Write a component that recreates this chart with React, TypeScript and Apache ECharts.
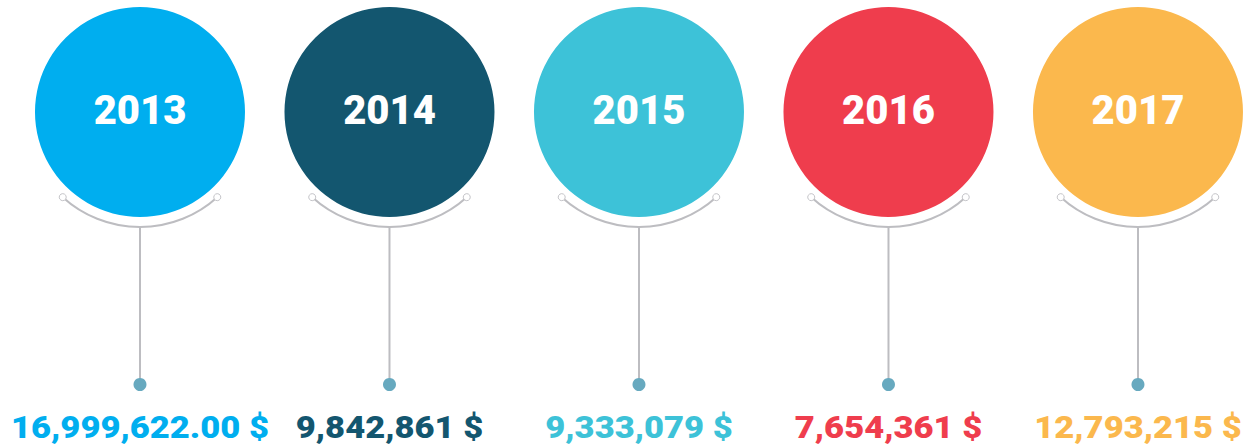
import React, { useEffect, useRef } from "react";
import * as echarts from "echarts";

const years = ["2013", "2014", "2015", "2016", "2017"];
const amounts = ["16,999,622.00 $", "9,842,861 $", "9,333,079 $", "7,654,361 $", "12,793,215 $"];
const colors = ["#00AEEF", "#13566F", "#3DC2D8", "#EF3D4D", "#FBB84D"];

const FONT = "Roboto";

export default function App() {
  const ref = useRef<HTMLDivElement>(null);
  useEffect(() => {
    if (!ref.current) return;
    const chart = echarts.init(ref.current, null, { renderer: "svg" });
    const data = years.map((y, i) => [i, 0]);
    chart.setOption({
      animation: false,
      grid: { left: 0, right: 0, top: 0, bottom: 0 },
      xAxis: { type: "value", min: -0.5611, max: 4.445, show: false },
      yAxis: { type: "value", min: 0, max: 1, show: false },
      series: [
        {
          type: "custom",
          data,
          renderItem: (params: any, api: any) => {
            const i = api.value(0);
            const p = api.coord([i, 0]);
            const cx = p[0];
            const cy = 112;
            const arcR = 115;
            const a1 = 0.834;
            const a2 = Math.PI - 0.834;
            const ex1 = cx + arcR * Math.cos(a1);
            const ey1 = cy + arcR * Math.sin(a1);
            const ex2 = cx + arcR * Math.cos(a2);
            const ey2 = cy + arcR * Math.sin(a2);
            return {
              type: "group",
              children: [
                {
                  type: "circle",
                  shape: { cx, cy, r: 105 },
                  style: { fill: colors[i] },
                },
                {
                  type: "text",
                  x: cx,
                  y: cy - 2,
                  style: {
                    x: 0,
                    y: 0,
                    text: years[i],
                    fill: "#ffffff",
                    font: `900 40px ${FONT}`,
                    align: "center",
                    verticalAlign: "middle",
                  },
                },
                {
                  type: "arc",
                  shape: { cx, cy, r: arcR, startAngle: a1, endAngle: a2, clockwise: true },
                  style: { stroke: "#bdbdc1", lineWidth: 2, fill: "none" },
                },
                {
                  type: "circle",
                  shape: { cx: ex1, cy: ey1, r: 3.5 },
                  style: { fill: "#ffffff", stroke: "#c4c4c8", lineWidth: 1 },
                },
                {
                  type: "circle",
                  shape: { cx: ex2, cy: ey2, r: 3.5 },
                  style: { fill: "#ffffff", stroke: "#c4c4c8", lineWidth: 1 },
                },
                {
                  type: "line",
                  shape: { x1: cx, y1: cy + arcR, x2: cx, y2: 384 },
                  style: { stroke: "#bdbdc1", lineWidth: 2 },
                },
                {
                  type: "circle",
                  shape: { cx, cy: 384.5, r: 6.5 },
                  style: { fill: "#67A9BF" },
                },
                {
                  type: "text",
                  x: cx,
                  y: 427,
                  scaleX: 1.08,
                  style: {
                    x: 0,
                    y: 0,
                    text: amounts[i],
                    fill: colors[i],
                    font: `900 32px ${FONT}`,
                    align: "center",
                    verticalAlign: "middle",
                  },
                },
              ],
            };
          },
        },
      ],
    });
    return () => chart.dispose();
  }, []);
  return (
    <div
      ref={ref}
      style={{ position: "absolute", left: 0, top: 0, width: 1249, height: 447, background: "#ffffff" }}
    />
  );
}
